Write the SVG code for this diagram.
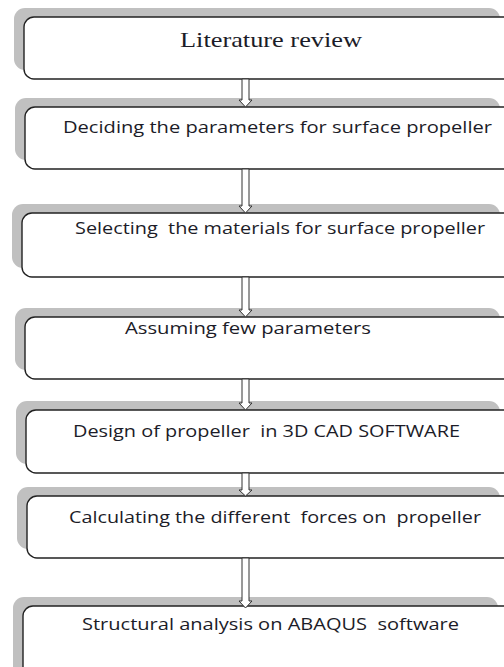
<svg xmlns="http://www.w3.org/2000/svg" width="504" height="667" viewBox="0 0 504 667">
<style>
.sh{fill:#c0c0c0;stroke:none}
.bx{fill:#fff;stroke:#222;stroke-width:1.4}
.t{font-family:"Open Sans","Liberation Sans",Arial,sans-serif;font-size:17px;fill:#1c1c28}
.ts{font-family:"Liberation Serif","Times New Roman",serif;font-size:21px;fill:#1c1c28}
.ar{fill:#fff;stroke:#333;stroke-width:1}
</style>
<rect width="504" height="667" fill="#fff"/>
<g id="n1">
<rect class="sh" x="14" y="8" width="486" height="62" rx="11"/>
<rect class="bx" x="24" y="17" width="490" height="62" rx="10"/>
<text class="ts" x="180" y="47" textLength="182" lengthAdjust="spacingAndGlyphs">Literature review</text>
</g>
<g id="n2">
<rect class="sh" x="15" y="98" width="485" height="62" rx="11"/>
<rect class="bx" x="25" y="107" width="490" height="62" rx="10"/>
<text class="t" x="63" y="133" textLength="429" lengthAdjust="spacingAndGlyphs">Deciding the parameters for surface propeller</text>
</g>
<g id="n3">
<rect class="sh" x="12" y="204" width="488" height="64" rx="11"/>
<rect class="bx" x="22" y="213" width="492" height="64" rx="10"/>
<text class="t" x="75" y="234" textLength="410" lengthAdjust="spacingAndGlyphs" xml:space="preserve">Selecting  the materials for surface propeller</text>
</g>
<g id="n4">
<rect class="sh" x="15" y="308" width="485" height="62" rx="11"/>
<rect class="bx" x="25" y="317" width="490" height="62" rx="10"/>
<text class="t" x="125" y="334" textLength="246" lengthAdjust="spacingAndGlyphs">Assuming few parameters</text>
</g>
<g id="n5">
<rect class="sh" x="16" y="401" width="484" height="63" rx="11"/>
<rect class="bx" x="26" y="410" width="490" height="63" rx="10"/>
<text class="t" x="73" y="437" textLength="387" lengthAdjust="spacingAndGlyphs" xml:space="preserve">Design of propeller  in 3D CAD SOFTWARE</text>
</g>
<g id="n6">
<rect class="sh" x="17" y="487" width="483" height="62" rx="11"/>
<rect class="bx" x="27" y="496" width="490" height="62" rx="10"/>
<text class="t" x="69" y="523" textLength="412" lengthAdjust="spacingAndGlyphs" xml:space="preserve">Calculating the different  forces on  propeller</text>
</g>
<g id="n7">
<rect class="sh" x="13" y="597" width="485" height="80" rx="11"/>
<rect class="bx" x="23" y="606" width="490" height="80" rx="10"/>
<text class="t" x="82" y="630" textLength="377" lengthAdjust="spacingAndGlyphs" xml:space="preserve">Structural analysis on ABAQUS  software</text>
</g>
<g id="connectors">
<path class="ar" d="M242,79 V100 H239 L245.5,107 L252,100 H249 V79 Z"/>
<path class="ar" d="M242,169 V206 H239 L245.5,213 L252,206 H249 V169 Z"/>
<path class="ar" d="M242,277 V310 H239 L245.5,317 L252,310 H249 V277 Z"/>
<path class="ar" d="M242,379 V403 H239 L245.5,410 L252,403 H249 V379 Z"/>
<path class="ar" d="M242,473 V490 H239 L245.5,496 L252,490 H249 V473 Z"/>
<path class="ar" d="M242,558 V601 H239 L245.5,608 L252,601 H249 V558 Z"/>
</g>
</svg>
